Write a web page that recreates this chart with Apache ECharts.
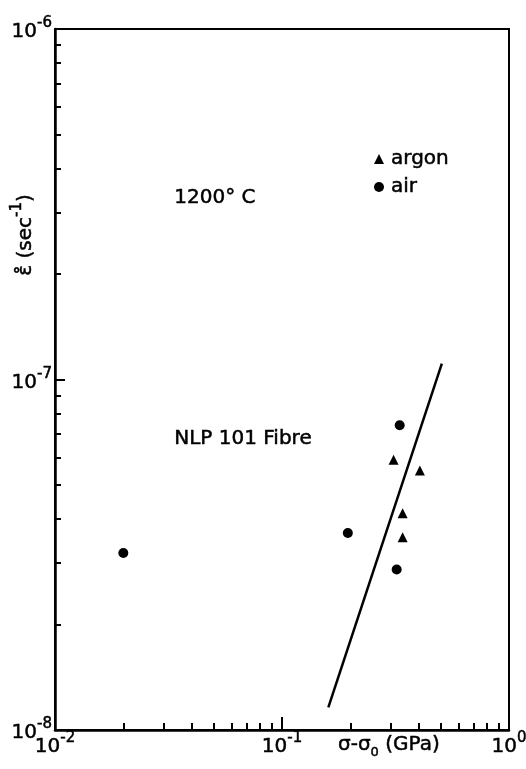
<!DOCTYPE html>
<html><head><meta charset="utf-8">
<script src="https://cdn.jsdelivr.net/npm/echarts@6/dist/echarts.min.js"></script>
<style>html,body{margin:0;padding:0;background:#fff}#c{width:526px;height:769px}</style>
</head><body><div id="c"></div>
<script>
// data
const airX = [0.020, 0.195, 0.33, 0.32];
const airY = [3.2e-8, 3.65e-8, 7.4e-8, 2.87e-8];
const argonX = [0.31, 0.405, 0.34, 0.34];
const argonY = [5.9e-8, 5.5e-8, 4.15e-8, 3.55e-8];
const fitX = [0.160, 0.506];
const fitY = [1.16e-8, 1.11e-7];

// ticks
const xMajorTicks = [0.01, 0.1, 1];
const yMajorTicks = [1e-8, 1e-7, 1e-6];
const xMinorTicks = [0.02,0.03,0.04,0.05,0.06,0.07,0.08,0.09,0.2,0.3,0.4,0.5,0.6,0.7,0.8,0.9];
const yMinorTicks = [2e-8,3e-8,4e-8,5e-8,6e-8,7e-8,8e-8,9e-8,2e-7,3e-7,4e-7,5e-7,6e-7,7e-7,8e-7,9e-7];
const xTickLabels = ['-2', '-1', '0'];
const yTickLabels = ['-8', '-7', '-6'];

const FONT = 'DejaVu Sans';
const TB = {textBorderColor: '#000', textBorderWidth: 0.5};
const zip = (a, b) => a.map((v, i) => [v, b[i]]);

const rich = {
  b: Object.assign({fontSize: 20, lineHeight: 26, verticalAlign: 'bottom', fontFamily: FONT, color: '#000'}, TB),
  s: Object.assign({fontSize: 15, lineHeight: 15, verticalAlign: 'top', fontFamily: FONT, color: '#000'}, TB)
};
function fmt(ticks, labels) {
  return function (v) {
    let idx = 0, best = Infinity;
    ticks.forEach((t, i) => { const d = Math.abs(Math.log10(t) - Math.log10(v)); if (d < best) { best = d; idx = i; } });
    return '{b|10}{s|' + labels[idx] + '}';
  };
}

const chart = echarts.init(document.getElementById('c'), null, {renderer: 'canvas'});
chart.setOption({
  animation: false,
  backgroundColor: '#fff',
  grid: {left: 55, top: 29, right: 17, bottom: 39, show: true, borderColor: '#000', borderWidth: 2,
         containLabel: false, outerBoundsMode: 'none'},
  xAxis: [
    {type: 'log', logBase: 10, min: 0.01, max: 1, position: 'bottom',
     axisLine: {show: true, onZero: false, lineStyle: {color: '#000', width: 2.5}},
     axisTick: {show: true, inside: true, length: 13, customValues: xMajorTicks, lineStyle: {color: '#000', width: 2}},
     axisLabel: {show: true, margin: 1, fontSize: 20, fontFamily: FONT, color: '#000',
                 customValues: xMajorTicks, formatter: fmt(xMajorTicks, xTickLabels), rich: rich},
     splitLine: {show: false}, minorTick: {show: false}},
    {type: 'log', logBase: 10, min: 0.01, max: 1, position: 'bottom', gridIndex: 0,
     axisLine: {show: false, onZero: false},
     axisTick: {show: true, inside: true, length: 7, customValues: xMinorTicks, lineStyle: {color: '#000', width: 2}},
     axisLabel: {show: false}, splitLine: {show: false}}
  ],
  yAxis: [
    {type: 'log', logBase: 10, min: 1e-8, max: 1e-6, position: 'left',
     axisLine: {show: true, onZero: false, lineStyle: {color: '#000', width: 2.5}},
     axisTick: {show: true, inside: true, length: 10, customValues: yMajorTicks, lineStyle: {color: '#000', width: 2}},
     axisLabel: {show: true, margin: 3, fontSize: 20, fontFamily: FONT, color: '#000',
                 customValues: yMajorTicks, formatter: fmt(yMajorTicks, yTickLabels), rich: rich},
     splitLine: {show: false}, minorTick: {show: false}},
    {type: 'log', logBase: 10, min: 1e-8, max: 1e-6, position: 'left', gridIndex: 0,
     axisLine: {show: false, onZero: false},
     axisTick: {show: true, inside: true, length: 6, customValues: yMinorTicks, lineStyle: {color: '#000', width: 2}},
     axisLabel: {show: false}, splitLine: {show: false}}
  ],
  legend: {
    orient: 'vertical', left: 369, top: 143, itemWidth: 10, itemHeight: 10, itemGap: 6,
    data: [{name: 'argon', icon: 'triangle'}, {name: 'air', icon: 'circle'}],
    textStyle: Object.assign({fontFamily: FONT, fontSize: 20, color: '#000', lineHeight: 22, padding: [0, 0, 0, 2]}, TB)
  },
  graphic: [
    {type: 'text', left: 174, top: 188, style: {text: '1200° C', fontFamily: FONT, fontSize: 20, fill: '#000', stroke: '#000', lineWidth: 0.5}},
    {type: 'text', left: 174, top: 429, style: {text: 'NLP 101 Fibre', fontFamily: FONT, fontSize: 20, fill: '#000', stroke: '#000', lineWidth: 0.5}},
    {type: 'text', x: 23, y: 235, rotation: Math.PI / 2,
     style: {text: '{a|\u03B5\u030A (sec}{s|-1}{a|)}', align: 'center', verticalAlign: 'middle',
             rich: {a: {fontFamily: FONT, fontSize: 20, lineHeight: 26, verticalAlign: 'bottom', fill: '#000', stroke: '#000', lineWidth: 0.5},
                    s: {fontFamily: FONT, fontSize: 15, lineHeight: 15, verticalAlign: 'top', fill: '#000', stroke: '#000', lineWidth: 0.5}}}},
    {type: 'text', x: 338, y: 735,
     style: {text: '{a|\u03C3-\u03C3}{u|0}{a| (GPa)}', verticalAlign: 'top',
             rich: {a: {fontFamily: FONT, fontSize: 20, lineHeight: 24, verticalAlign: 'top', fill: '#000', stroke: '#000', lineWidth: 0.5},
                    u: {fontFamily: FONT, fontSize: 13, lineHeight: 13, verticalAlign: 'bottom', fill: '#000', stroke: '#000', lineWidth: 0.5}}}}
  ],
  series: [
    {name: 'argon', type: 'scatter', xAxisIndex: 0, yAxisIndex: 0, symbol: 'triangle', symbolSize: 10,
     itemStyle: {color: '#000', opacity: 1}, data: zip(argonX, argonY)},
    {name: 'air', type: 'scatter', xAxisIndex: 0, yAxisIndex: 0, symbol: 'circle', symbolSize: 10,
     itemStyle: {color: '#000', opacity: 1}, data: zip(airX, airY)},
    {name: 'fit', type: 'line', xAxisIndex: 0, yAxisIndex: 0, showSymbol: false, symbol: 'none',
     lineStyle: {color: '#000', width: 2.5}, data: zip(fitX, fitY)}
  ]
});
</script></body></html>
